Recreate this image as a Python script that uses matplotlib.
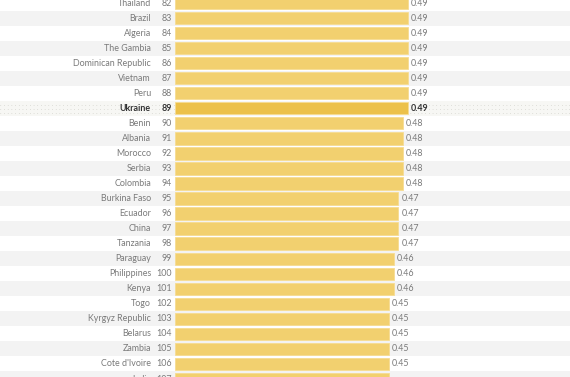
import matplotlib
matplotlib.use("Agg")
import matplotlib.pyplot as plt

countries = ["Thailand", "Brazil", "Algeria", "The Gambia", "Dominican Republic", "Vietnam",
             "Peru", "Ukraine", "Benin", "Albania", "Morocco", "Serbia", "Colombia",
             "Burkina Faso", "Ecuador", "China", "Tanzania", "Paraguay", "Philippines",
             "Kenya", "Togo", "Kyrgyz Republic", "Belarus", "Zambia", "Cote d'Ivoire", "India"]
ranks = list(range(82, 108))
values = [0.49, 0.49, 0.49, 0.49, 0.49, 0.49, 0.49, 0.49, 0.48, 0.48, 0.48, 0.48, 0.48,
          0.47, 0.47, 0.47, 0.47, 0.46, 0.46, 0.46, 0.45, 0.45, 0.45, 0.45, 0.45, 0.45]
highlight = "Ukraine"

W, H = 570, 377
DPI = 100
x0_px = 175.0          # pixel position of value 0
px_per_unit = 475.0
row_px = 15.04
first_row_px = 3.0

plt.rcParams["font.family"] = ["Lato", "DejaVu Sans"]

fig = plt.figure(figsize=(W / DPI, H / DPI), dpi=DPI)
ax = fig.add_axes([0, 0, 1, 1])
ax.set_xlim(-x0_px / px_per_unit, (W - x0_px) / px_per_unit)
ax.set_ylim((H - first_row_px) / row_px, -first_row_px / row_px)
ax.axis("off")

def px2x(px):
    return (px - x0_px) / px_per_unit

n = len(countries)
for i in range(n):
    if countries[i] == highlight:
        ax.axhspan(i - 0.5, i + 0.5, color="#f7f7f4", zorder=0, linewidth=0)
        for dy in (-0.22, 0.05, 0.32):
            ax.plot([px2x(0), px2x(W)], [i + dy, i + dy], color="#cfcfc8",
                    linestyle=(0, (0.6, 3.2)), linewidth=0.7, zorder=0.5)
    elif i % 2 == 1:
        ax.axhspan(i - 0.5, i + 0.5, color="#f3f3f3", zorder=0, linewidth=0)

colors = ["#ecc14a" if c == highlight else "#f2d06f" for c in countries]
ax.barh(range(n), values, height=0.82, color=colors, edgecolor="#f6dc92",
        linewidth=0.6, zorder=2)

for i, (c, r, v) in enumerate(zip(countries, ranks, values)):
    hl = c == highlight
    weight = "bold" if hl else "normal"
    tcol = "#333333" if hl else "#7a7a7a"
    fs = 6.4
    ax.text(px2x(151), i, c, ha="right", va="center", fontsize=fs, color=tcol,
            fontweight=weight, zorder=3)
    ax.text(px2x(172), i, str(r), ha="right", va="center", fontsize=fs, color=tcol,
            fontweight=weight, zorder=3)
    ax.annotate(f"{v:.2f}", (v, i), xytext=(2.2, 0), textcoords="offset points",
                ha="left", va="center", fontsize=fs, color=tcol, fontweight=weight,
                zorder=3)

fig.savefig("out.png", dpi=DPI)
